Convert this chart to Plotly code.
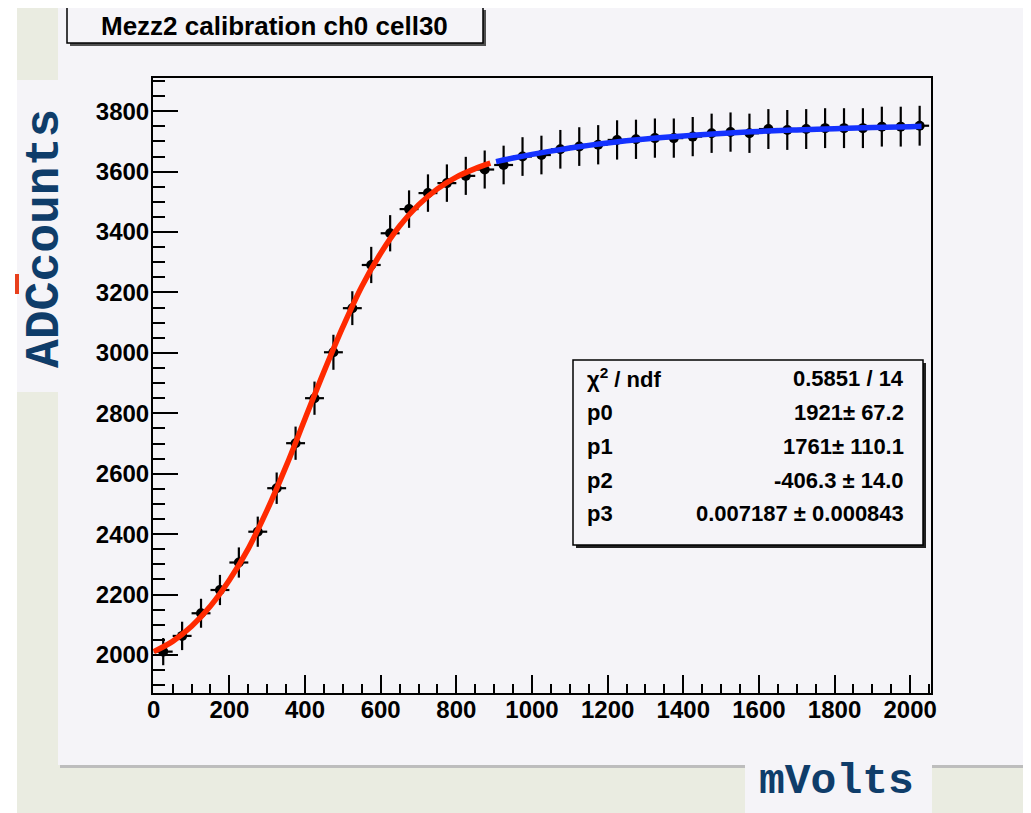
import plotly.graph_objects as go

# ---------------- data ----------------
mvolts = [25, 75, 125, 175, 225, 275, 325, 375, 425, 475,
          525, 575, 625, 675, 725, 775, 825, 875, 925, 975,
          1025, 1075, 1125, 1175, 1225, 1275, 1325, 1375, 1425, 1475,
          1525, 1575, 1625, 1675, 1725, 1775, 1825, 1875, 1925, 1975, 2025]
adc = [2011, 2063, 2138, 2215, 2306, 2408, 2552, 2701, 2850, 3002,
       3148, 3291, 3396, 3476, 3529, 3562, 3586, 3607, 3622, 3650,
       3655, 3674, 3683, 3689, 3705, 3707, 3711, 3711, 3716, 3727,
       3731, 3727, 3741, 3738, 3741, 3744, 3744, 3744, 3749, 3749, 3752]
adc_err = [45, 47, 48, 50, 50, 50, 52, 55, 55, 58,
           56, 60, 60, 62, 62, 62, 63, 63, 64, 64,
           64, 64, 64, 65, 65, 65, 65, 65, 65, 65,
           65, 65, 66, 66, 66, 66, 66, 66, 66, 66, 66]
mv_err = [25] * len(mvolts)

# red fit curve (low range)
red_x = [0, 50, 100, 150, 200, 250, 300, 350, 400, 450,
         500, 550, 600, 650, 700, 750, 800, 850, 890]
red_y = [2011, 2045, 2095, 2162, 2248, 2352, 2480, 2625, 2782, 2938,
         3086, 3220, 3330, 3420, 3490, 3543, 3582, 3610, 3628]

# blue fit curve (high range)
blue_x = [905, 950, 1000, 1050, 1100, 1150, 1200, 1300, 1400, 1500,
          1600, 1700, 1800, 1900, 2000, 2030]
blue_y = [3633, 3645, 3657, 3668, 3678, 3687, 3695, 3708, 3718, 3726,
          3733, 3738, 3742, 3746, 3749, 3750]

title_text = "Mezz2 calibration ch0 cell30"
x_title = "mVolts"
y_title = "ADCcounts"
stats_labels = ["\u03c7<sup>2</sup> / ndf", "p0", "p1", "p2", "p3"]
stats_values = ["0.5851 / 14", "1921\u00b1 67.2", "1761\u00b1 110.1",
                "-406.3 \u00b1 14.0", "0.007187 \u00b1 0.000843"]

# ---------------- geometry (page pixels; the page adds an 8 px body margin) ----------------
OFF = 8
W, H = 1031 - OFF, 813 - OFF
L, R, T, B = 153, 931, 78, 693   # plot area in page pixels


def px(xp):
    return (xp - L) / (R - L)


def py(yp):
    return (B - yp) / (B - T)


LAV = "#f5f4f8"
BEIGE = "#eaece1"

fig = go.Figure()

fig.add_trace(go.Scatter(
    x=mvolts, y=adc, mode="markers",
    marker=dict(color="black", size=10, symbol="circle"),
    error_y=dict(type="data", array=adc_err, color="black", thickness=2.2, width=0),
    error_x=dict(type="data", array=mv_err, color="black", thickness=2.2, width=0),
    showlegend=False, hoverinfo="x+y"))

fig.add_trace(go.Scatter(
    x=red_x, y=red_y, mode="lines", line=dict(color="#ff2a00", width=5.5, shape="spline"),
    showlegend=False))
fig.add_trace(go.Scatter(
    x=blue_x, y=blue_y, mode="lines", line=dict(color="#1432ff", width=5.5, shape="spline"),
    showlegend=False))

shapes = []
# white strip at the far left
shapes.append(dict(type="rect", xref="paper", yref="paper", layer="below",
                   x0=px(OFF - 1), x1=px(17), y0=py(OFF - 1), y1=py(814),
                   fillcolor="white", line=dict(width=0)))
# canvas border shadow + canvas
shapes.append(dict(type="rect", xref="paper", yref="paper", layer="below",
                   x0=px(60), x1=px(1026), y0=py(OFF - 1), y1=py(768),
                   fillcolor="#bdbdbd", line=dict(width=0)))
shapes.append(dict(type="rect", xref="paper", yref="paper", layer="below",
                   x0=px(58), x1=px(1023), y0=py(OFF - 1), y1=py(765),
                   fillcolor=LAV, line=dict(width=0)))
# box behind y title
shapes.append(dict(type="rect", xref="paper", yref="paper", layer="below",
                   x0=px(17), x1=px(60), y0=py(80), y1=py(392),
                   fillcolor=LAV, line=dict(width=0)))
# box behind x title
shapes.append(dict(type="rect", xref="paper", yref="paper", layer="below",
                   x0=px(745), x1=px(932), y0=py(764), y1=py(814),
                   fillcolor=LAV, line=dict(width=0)))
# small red artefact at the left edge
shapes.append(dict(type="rect", xref="paper", yref="paper", layer="below",
                   x0=px(15), x1=px(19), y0=py(274), y1=py(294),
                   fillcolor="#e8401c", line=dict(width=0)))
# title box with shadow
shapes.append(dict(type="rect", xref="paper", yref="paper", layer="above",
                   x0=px(70), x1=px(486), y0=py(10), y1=py(46),
                   fillcolor="#505050", line=dict(width=0)))
shapes.append(dict(type="rect", xref="paper", yref="paper", layer="above",
                   x0=px(67), x1=px(483), y0=py(7), y1=py(43),
                   fillcolor=LAV, line=dict(color="black", width=1.5)))
# stats box with shadow
shapes.append(dict(type="rect", xref="paper", yref="paper", layer="above",
                   x0=px(576), x1=px(926), y0=py(363), y1=py(548),
                   fillcolor="#202020", line=dict(width=0)))
shapes.append(dict(type="rect", xref="paper", yref="paper", layer="above",
                   x0=px(573), x1=px(923), y0=py(360), y1=py(545),
                   fillcolor=LAV, line=dict(color="black", width=1.5)))

annotations = []
annotations.append(dict(text=title_text, xref="paper", yref="paper",
                        x=px(274), y=py(26), xanchor="center", yanchor="middle",
                        showarrow=False,
                        font=dict(family="Liberation Sans, Arial", size=26, color="black", weight="bold")))
annotations.append(dict(text=y_title, xref="paper", yref="paper",
                        x=px(45), y=py(238), xanchor="center", yanchor="middle",
                        textangle=-90, showarrow=False,
                        font=dict(family="Liberation Mono, Courier New, monospace", size=48,
                                  color="#0f3d6a", weight="bold")))
annotations.append(dict(text=x_title, xref="paper", yref="paper",
                        x=px(836), y=py(781), xanchor="center", yanchor="middle",
                        showarrow=False,
                        font=dict(family="Liberation Mono, Courier New, monospace", size=43,
                                  color="#0f3d6a", weight="bold")))
row_y = [378, 412, 446, 480, 513]
for lab, val, ry in zip(stats_labels, stats_values, row_y):
    annotations.append(dict(text=lab, xref="paper", yref="paper",
                            x=px(585), y=py(ry), xanchor="left", yanchor="middle",
                            showarrow=False,
                            font=dict(family="Liberation Sans, Arial", size=22, color="black",
                                      weight="bold")))
    annotations.append(dict(text=val, xref="paper", yref="paper",
                            x=px(906), y=py(ry), xanchor="right", yanchor="middle",
                            showarrow=False,
                            font=dict(family="Liberation Sans, Arial", size=22, color="black",
                                      weight="bold")))

tickfont = dict(family="Liberation Sans, Arial", size=24, color="black", weight="bold")

fig.update_layout(
    width=W, height=H,
    margin=dict(l=L - OFF, r=W - (R - OFF), t=T - OFF, b=H - (B - OFF), autoexpand=False),
    paper_bgcolor=BEIGE, plot_bgcolor=LAV,
    shapes=shapes, annotations=annotations,
    showlegend=False,
)
fig.update_xaxes(range=[-2, 2055], showline=True, linecolor="black", linewidth=2, mirror=True,
                 ticks="inside", ticklen=18, tickwidth=1.5, tickcolor="black",
                 tick0=0, dtick=200, showgrid=False, zeroline=False,
                 minor=dict(ticks="inside", dtick=50, ticklen=9, tickwidth=1.5,
                            tickcolor="black", showgrid=False),
                 tickfont=tickfont, ticklabelstandoff=-6)
fig.update_yaxes(range=[1874, 3910], showline=True, linecolor="black", linewidth=2, mirror=True,
                 ticks="inside", ticklen=25, tickwidth=1.5, tickcolor="black",
                 tick0=0, dtick=200, showgrid=False, zeroline=False,
                 minor=dict(ticks="inside", dtick=50, ticklen=12, tickwidth=1.5,
                            tickcolor="black", showgrid=False),
                 tickfont=tickfont, ticklabelstandoff=-3)

fig.write_html("out.html")
